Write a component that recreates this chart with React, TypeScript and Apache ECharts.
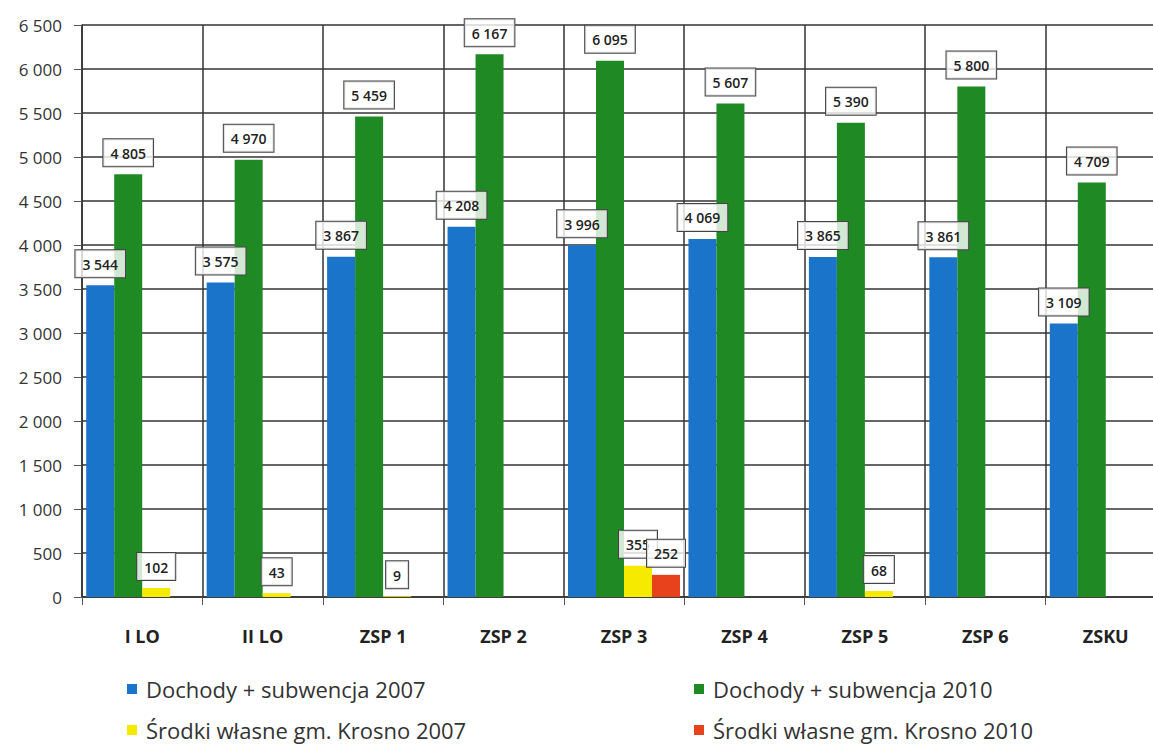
import React, { useEffect, useRef } from "react";
import * as echarts from "echarts";

const categories = ["I LO", "II LO", "ZSP 1", "ZSP 2", "ZSP 3", "ZSP 4", "ZSP 5", "ZSP 6", "ZSKU"];
const dochody2007 = [3544, 3575, 3867, 4208, 3996, 4069, 3865, 3861, 3109];
const dochody2010 = [4805, 4970, 5459, 6167, 6095, 5607, 5390, 5800, 4709];
const srodki2007 = [102, 43, 9, null, 355, null, 68, null, null];
const srodki2010 = [null, null, null, null, 252, null, null, null, null];
const seriesNames = [
  "Dochody + subwencja 2007",
  "Dochody + subwencja 2010",
  "Środki własne gm. Krosno 2007",
  "Środki własne gm. Krosno 2010",
];
const colors = ["#1a74c9", "#1f8a24", "#f5ea00", "#e8421c"];

const fmt = (v: number) => String(v).replace(/\B(?=(\d{3})+(?!\d))/g, " ");

const FONT = "'Open Sans', sans-serif";

export default function App() {
  const ref = useRef<HTMLDivElement>(null);
  useEffect(() => {
    if (!ref.current) return;
    const chart = echarts.init(ref.current, undefined, { renderer: "svg" });
    const label = {
      show: true,
      position: "top",
      distance: 8,
      formatter: (p: any) => fmt(p.value),
      color: "#222",
      fontFamily: FONT,
      fontSize: 14,
      fontWeight: 600,
      backgroundColor: "rgba(255,255,255,0.8)",
      borderColor: "#444",
      borderWidth: 1,
      padding: [7, 7, 6, 7],
    };
    const datas = [dochody2007, dochody2010, srodki2007, srodki2010];
    const legendText = { fontFamily: FONT, fontSize: 22, color: "#333", padding: [0, 0, 0, 4] };
    const legendPos = [
      { left: 127, top: 678 },
      { left: 694, top: 678 },
      { left: 127, top: 719 },
      { left: 694, top: 719 },
    ];
    chart.setOption({
      animation: false,
      backgroundColor: "#fff",
      color: colors,
      grid: { left: 82, top: 25, width: 1084, height: 572 },
      legend: seriesNames.map((n, i) => ({
        data: [n],
        orient: "horizontal",
        left: legendPos[i].left,
        top: legendPos[i].top,
        padding: 0,
        itemWidth: 10,
        itemHeight: 10,
        icon: "rect",
        textStyle: legendText,
      })),
      xAxis: {
        type: "category",
        data: categories,
        axisLine: { show: true, lineStyle: { color: "#333", width: 1.5 } },
        axisTick: { show: true, length: 8, lineStyle: { color: "#555" } },
        splitLine: { show: true, lineStyle: { color: "#333", width: 1.5 } },
        axisLabel: {
          margin: 30,
          fontFamily: FONT,
          fontSize: 18,
          fontWeight: "bold",
          color: "#222",
        },
      },
      yAxis: {
        type: "value",
        min: 0,
        max: 6500,
        interval: 500,
        axisLine: { show: true, lineStyle: { color: "#333", width: 1.5 } },
        axisTick: { show: true, length: 8, lineStyle: { color: "#555" } },
        splitLine: { show: true, lineStyle: { color: "#333", width: 1.5 } },
        axisLabel: {
          margin: 20,
          fontFamily: FONT,
          fontSize: 17,
          color: "#333",
          formatter: (v: number) => fmt(v),
        },
      },
      series: datas.map((d, i) => ({
        name: seriesNames[i],
        type: "bar",
        data: d,
        barGap: "0%",
        barCategoryGap: "7%",
        itemStyle: { color: colors[i] },
        label,
      })),
    });
    return () => chart.dispose();
  }, []);
  return (
    <div style={{ width: 1153, height: 749, position: "absolute", left: 0, top: 0, overflow: "hidden", background: "#fff" }}>
      <div ref={ref} style={{ width: 1170, height: 749 }} />
    </div>
  );
}
